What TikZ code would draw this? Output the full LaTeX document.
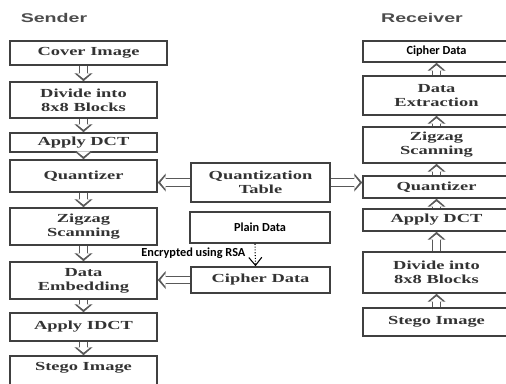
\documentclass[tikz,border=0pt]{standalone}
\usepackage{fontspec}
\setmainfont{Liberation Serif}
\newfontfamily\boxfont[FakeStretch=1.5]{Liberation Serif}
\newfontfamily\headfont[FakeStretch=1.55]{Liberation Sans}
\newfontfamily\calib{Carlito}
\usepackage{tikz}
\usetikzlibrary{arrows.meta,positioning}

\begin{document}
\begin{tikzpicture}[
    x=0.02cm, y=-0.02cm,
    box/.style={draw=black!75, line width=0.9pt, font=\boxfont\fontsize{7}{8}\selectfont\bfseries, text=black!80, align=center, minimum width=2.94cm, inner sep=1pt},
    small/.style={box, font=\calib\fontsize{7}{8}\selectfont\bfseries, text=black},
    title/.style={font=\headfont\fontsize{7.2}{8}\selectfont\bfseries, text=black!70},
    flow/.style={line width=5pt, draw=black!65, -{Triangle[length=4.5pt, width=10pt]},
        postaction={draw=white, line width=3.6pt, shorten >=1.5pt, -{Triangle[length=3pt, width=7.4pt]}}},
    encrypt/.style={densely dotted, line width=0.6pt, -{Straight Barb[length=1.6mm, width=2.6mm]}, font=\calib\fontsize{7}{8}\selectfont\bfseries}
]
    \useasboundingbox (0,0) rectangle (506,383);

    % Titles
    \node[title] (send) at (54, 18) {Sender};
    \node[title] (recv) at (422, 18) {Receiver};

    % Sender
    \node[box, minimum width=3.14cm, minimum height=0.48cm] (cover) at (88.5, 53) {Cover Image};
    \node[box, minimum height=0.72cm] (divide) at (83.5, 100) {Divide into\\ 8x8 Blocks};
    \node[box, minimum height=0.38cm] (dct) at (83.5, 142.5) {Apply DCT};
    \node[box, minimum height=0.64cm] (quant) at (83.5, 176) {Quantizer};
    \node[box, minimum height=0.74cm] (zigzag) at (83.5, 226.5) {Zigzag\\ Scanning};
    \node[box, minimum height=0.74cm] (embed) at (83.5, 280.5) {Data\\ Embedding};
    \node[box, minimum height=0.56cm] (idct) at (83.5, 327) {Apply IDCT};
    \node[box, minimum height=0.72cm, text depth=0.3cm] (stego) at (83.5, 374) {Stego Image};

    % Middle
    \node[box, minimum width=2.78cm, minimum height=0.78cm] (qtab) at (260.5, 182.5) {Quantization\\ Table};
    \node[small, minimum width=2.8cm, minimum height=0.62cm] (plain) at (260, 227.5) {Plain Data};
    \node[box, minimum width=2.78cm, minimum height=0.52cm] (cipher) at (260.5, 280) {Cipher Data};

    % Receiver
    \node[small, minimum height=0.42cm] (rcipher) at (436.5, 51.5) {Cipher Data};
    \node[box, minimum height=0.78cm] (extract) at (436.5, 95.5) {Data\\ Extraction};
    \node[box, minimum height=0.72cm] (rzigzag) at (436.5, 145) {Zigzag\\ Scanning};
    \node[box, minimum height=0.44cm] (rquant) at (436.5, 187) {Quantizer};
    \node[box, minimum height=0.44cm] (rdct) at (436.5, 220) {Apply DCT};
    \node[box, minimum height=0.82cm] (rdivide) at (436.5, 272.5) {Divide into\\ 8x8 Blocks};
    \node[box, minimum height=0.56cm] (rstego) at (436.5, 322) {Stego Image};

    % Sender flow
    \draw[flow] (divide.north |- cover.south) -- (divide.north);
    \draw[flow] (divide) -- (dct);
    \draw[flow] (dct) -- (quant);
    \draw[flow] (quant) -- (zigzag);
    \draw[flow] (zigzag) -- (embed);
    \draw[flow] (embed) -- (idct);
    \draw[flow] (idct) -- (stego);

    % Side inputs
    \draw[flow] (qtab.west) -- (qtab.west -| quant.east);
    \draw[flow] (qtab.east) -- (qtab.east -| rquant.west);
    \draw[flow] (cipher.west) -- (cipher.west -| embed.east);
    \draw[encrypt] ([xshift=-0.1cm]plain.south) -- node[left, xshift=-2pt, yshift=1pt]{Encrypted using RSA} ([xshift=-0.1cm]cipher.north);

    % Receiver flow
    \draw[flow] (rstego) -- (rdivide);
    \draw[flow] (rdivide) -- (rdct);
    \draw[flow] (rdct) -- (rquant);
    \draw[flow] (rquant) -- (rzigzag);
    \draw[flow] (rzigzag) -- (extract);
    \draw[flow] (extract) -- (rcipher);
\end{tikzpicture}
\end{document}
